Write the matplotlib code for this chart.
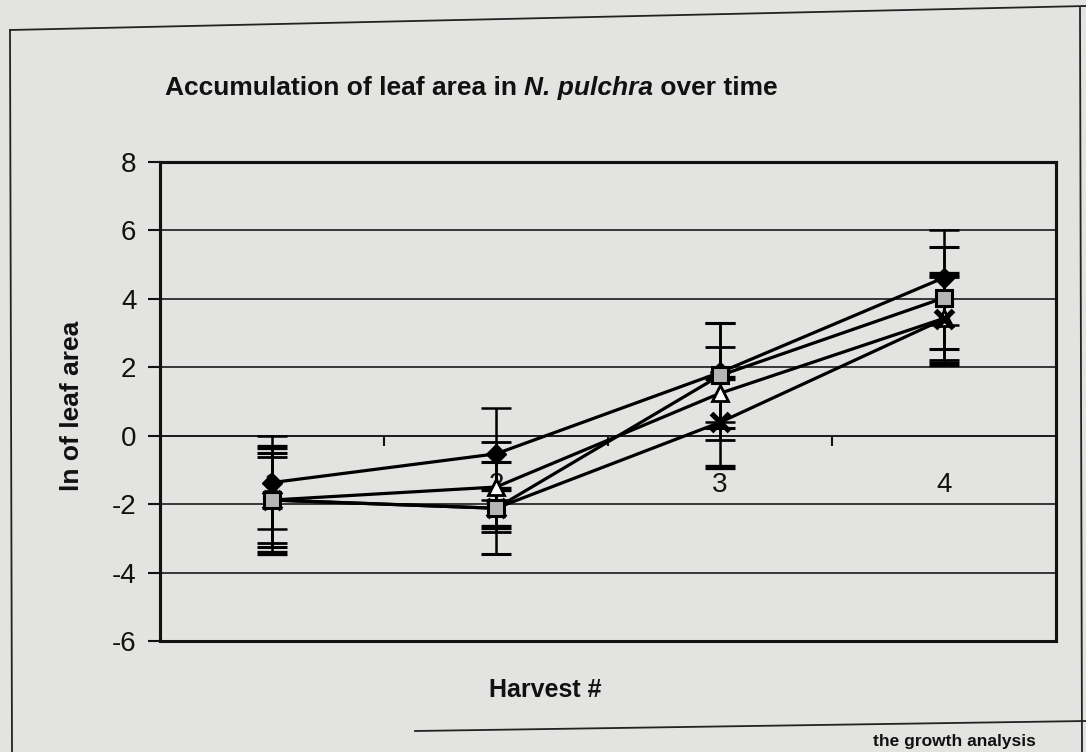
import matplotlib
matplotlib.use('Agg')
import matplotlib.pyplot as plt
from matplotlib.lines import Line2D

# ---- data ----
harvest = [1, 2, 3, 4]
harvest_labels = ['1', '2', '3', '4']
diamond_vals = [-1.37, -0.53, 1.85, 4.62]
diamond_err = [1.37, 1.35, 1.45, 1.38]
triangle_vals = [-1.88, -1.50, 1.24, 3.43]
triangle_err = [1.25, 1.32, 1.36, 1.22]
cross_vals = [-1.88, -2.12, 0.39, 3.41]
cross_err = [1.55, 0.56, 1.29, 1.32]
square_vals = [-1.88, -2.12, 1.76, 4.03]
square_err = [1.38, 1.35, 1.54, 1.50]
y_ticks = [-6, -4, -2, 0, 2, 4, 6, 8]
boundary_ticks = [1.5, 2.5, 3.5]

title_main = "Accumulation of leaf area in "
title_species = "N. pulchra"
title_end = " over time"
y_label = "ln of leaf area"
x_label = "Harvest #"
caption = "the growth analysis"

paper = '#e3e3e1'
plt.rcParams['font.family'] = ['Liberation Sans', 'DejaVu Sans']

W, H = 1086, 752
fig = plt.figure(figsize=(W / 100, H / 100), dpi=100, facecolor=paper)

def fx(px):
    return px / W

def fy(py):
    return 1 - py / H

# outer page frame (decoration)
fig.add_artist(Line2D([fx(10), fx(12)], [fy(30), fy(752)], color='#222222', lw=1.3))
fig.add_artist(Line2D([fx(10), fx(1086)], [fy(30), fy(6)], color='#222222', lw=1.3))
fig.add_artist(Line2D([fx(1080), fx(1082)], [fy(8), fy(752)], color='#222222', lw=1.3))
fig.add_artist(Line2D([fx(415), fx(1086)], [fy(731), fy(721)], color='#222222', lw=1.3))

ax = fig.add_axes([fx(160), fy(641), fx(1056) - fx(160), fy(162) - fy(641)])
ax.set_facecolor(paper)

common = dict(color='black', lw=2.3, elinewidth=1.8, ecolor='black',
              capsize=11, capthick=1.8, zorder=4)
ax.errorbar(harvest, diamond_vals, yerr=diamond_err, marker='D', ms=10.5,
            mfc='black', mec='black', **common)
ax.errorbar(harvest, triangle_vals, yerr=triangle_err, marker='^', ms=11,
            mfc='white', mec='black', mew=2.0, **common)
ax.errorbar(harvest, cross_vals, yerr=cross_err, marker='x', ms=13,
            mec='black', mew=3.8, **common)
ax.errorbar(harvest, square_vals, yerr=square_err, marker='s', ms=11,
            mfc='#b5b5b5', mec='black', mew=2.2, **common)

ax.set_xlim(0.5, 4.5)
ax.set_ylim(-6, 8)
ax.set_yticks(y_ticks)
ax.set_yticklabels([str(v) for v in y_ticks])
ax.set_xticks(harvest)
ax.set_xticklabels(harvest_labels)
ax.set_xticks(boundary_ticks, minor=True)

ax.yaxis.grid(True, color='#1a1a1a', lw=1.2)
ax.xaxis.grid(False)
ax.set_axisbelow(True)

ax.tick_params(axis='y', direction='out', length=9, width=1.5, pad=8,
               labelsize=20, colors='#111111')
ax.tick_params(axis='x', which='major', length=0, pad=26, labelsize=20,
               colors='#111111')
ax.tick_params(axis='x', which='minor', direction='out', length=7, width=1.5,
               colors='#111111')

ax.spines['bottom'].set_position(('data', 0))
ax.spines['bottom'].set_linewidth(1.2)
ax.spines['bottom'].set_color('#1a1a1a')
for s in ['left', 'top', 'right']:
    ax.spines[s].set_linewidth(2.2)
    ax.spines[s].set_color('#111111')
ax.add_patch(plt.Rectangle((0, 0), 1, 1, transform=ax.transAxes, fill=False,
                           lw=2.2, edgecolor='#111111', clip_on=False, zorder=5))

# titles and labels
t1 = fig.text(fx(165), fy(88), title_main, fontsize=19, fontweight='bold',
              va='center', ha='left', color='#111111')
fig.canvas.draw()
r = fig.canvas.get_renderer()
bb = t1.get_window_extent(r)
t2 = fig.text(bb.x1 / W, fy(88), title_species, fontsize=19, fontweight='bold',
              fontstyle='italic', va='center', ha='left', color='#111111')
bb2 = t2.get_window_extent(r)
fig.text(bb2.x1 / W, fy(88), title_end, fontsize=19, fontweight='bold',
         va='center', ha='left', color='#111111')

fig.text(fx(72), fy(406), y_label, rotation=90, fontsize=19, fontweight='bold',
         va='center', ha='center', color='#111111')
fig.text(fx(545), fy(690), x_label, fontsize=18, fontweight='bold',
         va='center', ha='center', color='#111111')
fig.text(fx(1036), fy(749), caption, fontsize=12.5, fontweight='bold',
         va='bottom', ha='right', color='#111111')

fig.savefig('out.png', dpi=100, facecolor=paper)
